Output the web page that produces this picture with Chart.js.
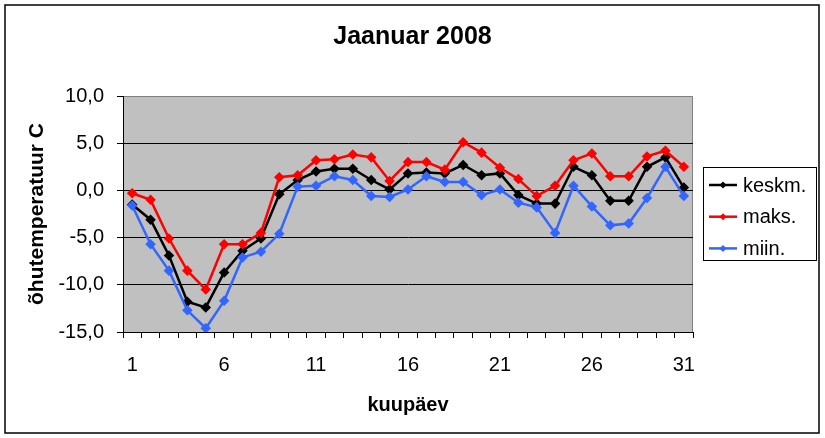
<!DOCTYPE html>
<html lang="et">
  <head>
    <meta charset="UTF-8" />
    <title>Jaanuar 2008</title>
    <style>
      html, body { margin: 0; padding: 0; background: #fff; }
      canvas { display: block; }
    </style>
  </head>
  <body>
    <canvas id="myChart" width="825" height="438"></canvas>
    <script src="https://cdn.jsdelivr.net/npm/chart.js"></script>
    <script>
      const days = [
        "1", "2", "3", "4", "5", "6", "7", "8", "9", "10", "11", "12", "13", "14", "15", "16",
        "17", "18", "19", "20", "21", "22", "23", "24", "25", "26", "27", "28", "29", "30", "31"
      ];
      const keskm = [
        -1.5, -3.1, -6.9, -11.8, -12.4, -8.7, -6.4, -5.1, -0.4, 1.1, 2.0, 2.3, 2.3, 1.1, 0.1, 1.8,
        1.9, 1.8, 2.7, 1.6, 1.8, -0.5, -1.4, -1.4, 2.5, 1.6, -1.1, -1.1, 2.5, 3.5, 0.3
      ];
      const maks = [
        -0.3, -1.0, -5.1, -8.5, -10.5, -5.7, -5.7, -4.5, 1.4, 1.6, 3.2, 3.3, 3.8, 3.5, 1.0, 3.0,
        3.0, 2.2, 5.1, 4.0, 2.4, 1.2, -0.6, 0.5, 3.2, 3.9, 1.5, 1.5, 3.6, 4.2, 2.5
      ];
      const miin = [
        -1.6, -5.7, -8.5, -12.7, -14.6, -11.7, -7.1, -6.5, -4.6, 0.4, 0.5, 1.5, 1.1, -0.6, -0.7, 0.1,
        1.5, 0.9, 0.9, -0.5, 0.1, -1.3, -1.8, -4.5, 0.5, -1.7, -3.7, -3.5, -0.8, 2.5, -0.6
      ];
      const yMin = -15;
      const yMax = 10;
      const yStep = 5;

      const FONT = "Arial, 'Liberation Sans', sans-serif";

      function series(label, data, color, order) {
        return {
          label: label,
          data: data,
          borderColor: color,
          backgroundColor: color,
          borderWidth: 2.5,
          pointStyle: "rectRot",
          pointRadius: 3.5,
          pointHoverRadius: 3.5,
          tension: 0,
          order: order
        };
      }

      // grey plot area + frame around the whole picture
      const frame = {
        id: "frame",
        beforeDraw(chart) {
          const { ctx, chartArea: a } = chart;
          ctx.save();
          ctx.fillStyle = "#fff";
          ctx.fillRect(0, 0, chart.width, chart.height);
          ctx.fillStyle = "#c0c0c0";
          ctx.fillRect(a.left, a.top, a.right - a.left, a.bottom - a.top);
          ctx.strokeStyle = "#808080";
          ctx.lineWidth = 1;
          ctx.beginPath();
          ctx.moveTo(a.left, a.top + 0.5);
          ctx.lineTo(a.right - 0.5, a.top + 0.5);
          ctx.lineTo(a.right - 0.5, a.bottom);
          ctx.stroke();
          ctx.restore();
        },
        afterDraw(chart) {
          const ctx = chart.ctx;
          ctx.save();
          ctx.strokeStyle = "#000";
          ctx.lineWidth = 1.5;
          ctx.strokeRect(5, 5, 814, 428);
          ctx.restore();
        }
      };

      // boxed legend at the right, like the original
      const boxLegend = {
        id: "boxLegend",
        afterDraw(chart) {
          const ctx = chart.ctx;
          const x = 703, y = 167, w = 113, h = 93;
          ctx.save();
          ctx.fillStyle = "#fff";
          ctx.fillRect(x, y, w, h);
          ctx.strokeStyle = "#000";
          ctx.lineWidth = 1;
          ctx.strokeRect(x + 0.5, y + 0.5, w, h);
          ctx.font = "20px " + FONT;
          ctx.textBaseline = "middle";
          chart.data.datasets.forEach((ds, i) => {
            const cy = y + 18 + i * 31.7;
            ctx.strokeStyle = ds.borderColor;
            ctx.lineWidth = 2.5;
            ctx.beginPath();
            ctx.moveTo(x + 6, cy);
            ctx.lineTo(x + 34, cy);
            ctx.stroke();
            ctx.fillStyle = ds.borderColor;
            ctx.beginPath();
            ctx.moveTo(x + 20, cy - 3.5);
            ctx.lineTo(x + 23.5, cy);
            ctx.lineTo(x + 20, cy + 3.5);
            ctx.lineTo(x + 16.5, cy);
            ctx.closePath();
            ctx.fill();
            ctx.fillStyle = "#000";
            ctx.fillText(ds.label, x + 40, cy + 1);
          });
          ctx.restore();
        }
      };

      const ctx = document.querySelector("#myChart");

      new Chart(ctx, {
        type: "line",
        data: {
          labels: days,
          datasets: [
            series("keskm.", keskm, "#000000", 3),
            series("maks.", maks, "#ff0000", 2),
            series("miin.", miin, "#3366ff", 1)
          ]
        },
        options: {
          responsive: false,
          animation: false,
          devicePixelRatio: 1,
          layout: { padding: 0 },
          plugins: {
            legend: { display: false },
            tooltip: { enabled: false },
            title: {
              display: true,
              text: "Jaanuar 2008",
              color: "#000",
              font: { family: FONT, size: 25, weight: "bold", lineHeight: 1.2 },
              padding: { top: 22, bottom: 44 }
            }
          },
          scales: {
            x: {
              offset: true,
              afterFit(scale) {
                scale.height = 106;
              },
              grid: {
                offset: true,
                drawOnChartArea: false,
                drawTicks: true,
                tickLength: 6,
                tickColor: "#000"
              },
              border: { display: true, color: "#000", width: 1 },
              ticks: {
                autoSkip: false,
                maxRotation: 0,
                padding: 15,
                color: "#000",
                font: { family: FONT, size: 20 },
                callback: function (val, i) {
                  return i % 5 === 0 ? this.getLabelForValue(val) : "";
                }
              },
              title: {
                display: true,
                text: "kuupäev",
                color: "#000",
                font: { family: FONT, size: 20, weight: "bold", lineHeight: 1.2 },
                padding: { top: 0, bottom: 21 }
              }
            },
            y: {
              min: yMin,
              max: yMax,
              afterFit(scale) {
                scale.width = 123;
              },
              grid: {
                color: ctx => (ctx.tick && ctx.tick.value === yMax ? "rgba(0,0,0,0)" : "#000"),
                tickColor: "#000",
                tickLength: 6,
                lineWidth: 1
              },
              border: { display: true, color: "#000", width: 1 },
              ticks: {
                stepSize: yStep,
                padding: 13,
                color: "#000",
                font: { family: FONT, size: 20 },
                callback: v => v.toFixed(1).replace(".", ",")
              },
              title: {
                display: true,
                text: "õhutemperatuur C",
                color: "#000",
                font: { family: FONT, size: 21, weight: "bold", lineHeight: 1.2 },
                padding: { top: 25, bottom: 0 }
              }
            },
            // empty right-hand box that keeps room for the legend
            yRight: {
              position: "right",
              min: yMin,
              max: yMax,
              afterFit(scale) {
                scale.width = 132;
              },
              grid: { display: false },
              border: { display: false },
              ticks: { display: false }
            }
          }
        },
        plugins: [frame, boxLegend]
      });
    </script>
  </body>
</html>
